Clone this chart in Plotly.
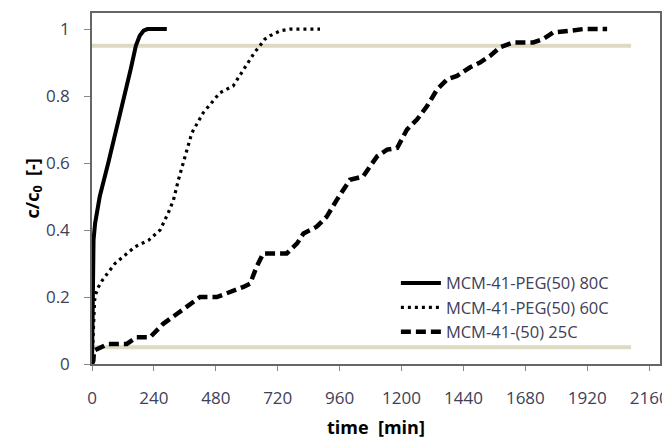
import plotly.graph_objects as go

# Data
solid_t = [0, 2, 4, 6, 12, 30, 63, 95, 124, 150, 170, 185, 200, 215, 250, 290]
solid_c = [0, 0.1, 0.28, 0.37, 0.42, 0.5, 0.6, 0.7, 0.8, 0.88, 0.95, 0.98, 0.995, 1.0, 1.0, 1.0]

dot_t = [0, 3, 6, 10, 15, 25, 40, 60, 89, 120, 167, 220, 264, 295, 316, 335, 353, 370, 387,
         431, 496, 547, 606, 630, 651, 670, 690, 730, 768, 820, 884]
dot_c = [0, 0.08, 0.15, 0.19, 0.21, 0.23, 0.25, 0.27, 0.3, 0.32, 0.35, 0.37, 0.4, 0.45, 0.49,
         0.55, 0.6, 0.65, 0.69, 0.75, 0.81, 0.83, 0.9, 0.93, 0.95, 0.97, 0.98, 0.995, 1.0, 1.0, 1.0]

dash_t = [0, 5, 8, 20, 40, 62, 135, 173, 225, 276, 330, 387, 419, 484, 522, 587, 613, 638, 664,
          755, 795, 820, 871, 910, 949, 1000, 1051, 1105, 1144, 1183, 1221, 1260, 1299, 1338,
          1377, 1415, 1466, 1504, 1543, 1582, 1633, 1711, 1749, 1788, 1854, 1904, 1997]
dash_c = [0, 0.01, 0.04, 0.045, 0.05, 0.06, 0.06, 0.08, 0.08, 0.12, 0.15, 0.18, 0.2, 0.2, 0.21,
          0.23, 0.24, 0.29, 0.33, 0.33, 0.36, 0.39, 0.41, 0.44, 0.49, 0.55, 0.56, 0.62, 0.64,
          0.645, 0.70, 0.73, 0.77, 0.82, 0.85, 0.86, 0.886, 0.90, 0.92, 0.946, 0.96, 0.96, 0.97,
          0.99, 0.995, 1.0, 1.0]

series_names = ["MCM-41-PEG(50) 80C", "MCM-41-PEG(50) 60C", "MCM-41-(50) 25C"]

threshold_levels = [0.05, 0.95]
threshold_span = [0, 2090]

x_ticks = [0, 240, 480, 720, 960, 1200, 1440, 1680, 1920, 2160]
y_ticks = [0, 0.2, 0.4, 0.6, 0.8, 1.0]
y_tick_labels = ["0", "0.2", "0.4", "0.6", "0.8", "1"]

x_title = "<b>time  [min]</b>"
y_title = "<b>c/c<sub>0</sub>  [-]</b>"

FONT = "Open Sans, Liberation Sans, sans-serif"

fig = go.Figure()

for lvl in threshold_levels:
    fig.add_trace(go.Scatter(x=threshold_span, y=[lvl, lvl], mode="lines",
                             line=dict(color="#DDD9C3", width=4), showlegend=False,
                             hoverinfo="skip"))

fig.add_trace(go.Scatter(x=solid_t, y=solid_c, mode="lines", name=series_names[0],
                         line=dict(color="black", width=4)))
fig.add_trace(go.Scatter(x=dot_t, y=dot_c, mode="lines", name=series_names[1],
                         line=dict(color="black", width=3.2, dash="3px,4px")))
fig.add_trace(go.Scatter(x=dash_t, y=dash_c, mode="lines", name=series_names[2],
                         line=dict(color="black", width=4.5, dash="10px,5px")))

tick_font = dict(family=FONT, size=17, color="#404058")

# The page body adds an 8px offset, so the figure is 8px smaller and margins shifted.
fig.update_layout(
    width=662, height=433,
    margin=dict(l=84, r=10, t=5, b=77, autoexpand=False),
    paper_bgcolor="white", plot_bgcolor="white",
    showlegend=True,
    legend=dict(x=0.535, y=0.28, xanchor="left", yanchor="top",
                bgcolor="rgba(0,0,0,0)", borderwidth=0,
                font=dict(family=FONT, size=16.5, color="#404058"),
                tracegroupgap=0, itemwidth=40),
    xaxis=dict(range=[0, 2202], tickmode="array", tickvals=x_ticks,
               ticks="outside", ticklen=5, tickcolor="#888", tickwidth=1,
               showline=True, linecolor="#666", linewidth=1.5, mirror=True,
               showgrid=False, zeroline=False, tickfont=tick_font,
               ticklabelstandoff=13, automargin=False),
    yaxis=dict(range=[0, 1.048], tickmode="array", tickvals=y_ticks, ticktext=y_tick_labels,
               ticks="outside", ticklen=6, tickcolor="#888", tickwidth=1,
               showline=True, linecolor="#666", linewidth=1.5, mirror=True,
               showgrid=False, zeroline=False, tickfont=tick_font,
               ticklabelstandoff=11, automargin=False),
    annotations=[
        dict(text=x_title, xref="paper", yref="paper", x=0.5, y=0,
             xanchor="center", yanchor="middle", yshift=-63, showarrow=False,
             font=dict(family=FONT, size=18, color="black")),
        dict(text=y_title, xref="paper", yref="paper", x=0, y=0.5,
             xanchor="center", yanchor="middle", xshift=-59, textangle=-90,
             showarrow=False, font=dict(family=FONT, size=18, color="black")),
    ],
)

fig.write_html("out.html")
